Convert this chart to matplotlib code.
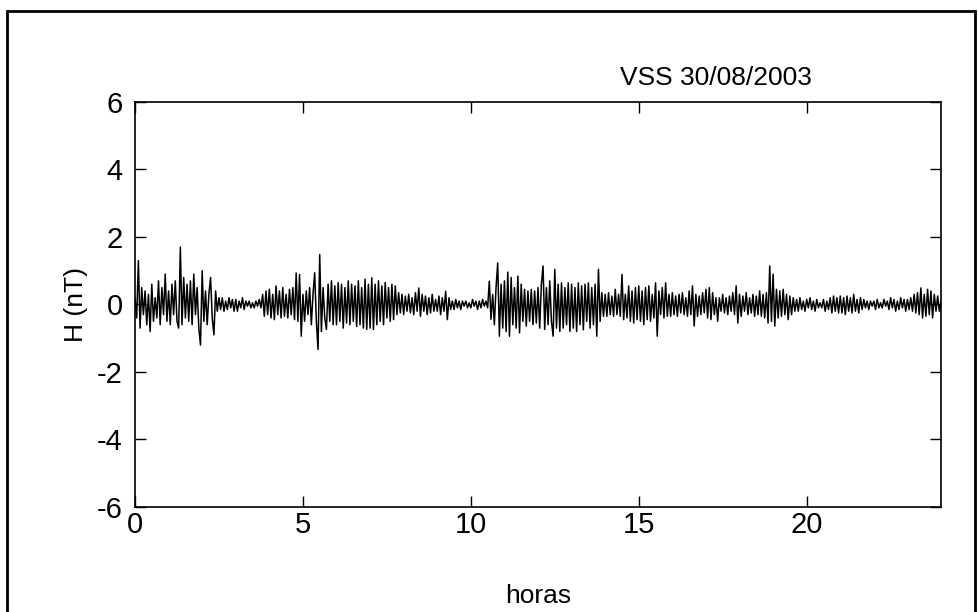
import numpy as np
import matplotlib
matplotlib.use("Agg")
from matplotlib import pyplot as plt
from matplotlib.patches import Rectangle

# H component (nT), 20 samples per hour, one row per hour
h00 = [0.2, -0.4, 1.3, -0.7, 0.5, -0.3, 0.4, -0.6, 0.3, -0.8, 0.6, -0.5, 0.2, -0.4, 0.7, -0.6, 0.5, -0.3, 0.9, -0.5]
h01 = [0.4, -0.6, 0.6, -0.3, 0.7, -0.5, -0.7, 1.7, -0.6, 0.8, -0.4, 0.6, -0.5, 0.7, -0.6, 0.9, -0.3, 0.5, -0.7, -1.2]
h02 = [1.0, -0.5, 0.4, -0.6, 0.3, 0.8, -0.4, -0.9, 0.4, -0.2, 0.2, -0.15, 0.2, -0.2, 0.1, -0.15, 0.2, -0.1, 0.15, -0.2]
h03 = [0.15, -0.2, 0.1, -0.1, 0.2, -0.15, 0.1, -0.05, 0.1, -0.1, 0.05, -0.1, 0.1, -0.05, 0.15, -0.1, 0.3, -0.35, 0.4, -0.3]
h04 = [0.45, -0.4, 0.3, -0.45, 0.55, -0.3, 0.4, -0.4, 0.5, -0.35, 0.3, -0.4, 0.45, -0.3, 0.5, -0.45, 0.93, -0.5, 0.89, -0.94]
h05 = [0.3, -0.5, 0.4, -0.3, 0.5, -0.6, 0.3, 0.94, -0.5, -1.33, 1.48, -0.8, 0.5, -0.4, -0.74, 0.6, -0.5, 0.7, -0.6, 0.55]
h06 = [-0.6, 0.65, -0.5, 0.6, -0.7, 0.5, -0.55, 0.7, -0.6, 0.6, -0.5, 0.55, -0.65, 0.7, -0.6, 0.5, -0.7, 0.75, -0.74, 0.6]
h07 = [-0.7, 0.79, -0.74, 0.6, -0.6, 0.7, -0.5, 0.55, -0.6, 0.65, -0.4, 0.5, -0.5, 0.6, -0.45, 0.55, -0.3, 0.35, -0.25, 0.3]
h08 = [-0.3, 0.25, -0.2, 0.3, -0.25, 0.2, -0.3, 0.35, -0.2, 0.49, -0.35, 0.3, -0.2, 0.25, -0.3, 0.2, -0.25, 0.3, -0.2, 0.15]
h09 = [-0.2, 0.25, -0.3, 0.2, -0.2, 0.39, -0.45, 0.2, -0.15, 0.1, -0.15, 0.15, -0.1, 0.1, -0.15, 0.1, -0.05, 0.1, -0.1, 0.05]
h10 = [-0.1, 0.15, -0.05, 0.1, -0.15, 0.1, -0.1, 0.15, -0.05, 0.1, -0.1, 0.69, -0.44, 0.3, -0.6, 0.5, 1.23, -0.94, 0.6, -0.7]
h11 = [0.7, -0.8, 0.96, -0.94, 0.8, -0.6, 0.5, -0.7, 0.84, -0.84, 0.6, -0.5, 0.45, -0.64, 0.4, -0.5, 0.45, -0.6, 0.4, -0.55]
h12 = [0.5, -0.7, 0.6, 1.14, -0.74, 0.5, -0.6, 0.7, -0.5, -0.94, 1.04, -0.7, 0.6, -0.8, 0.64, -0.7, 0.5, -0.6, 0.64, -0.8]
h13 = [0.6, -0.7, 0.5, -0.8, 0.64, -0.6, 0.55, -0.75, 0.6, -0.5, 0.64, -0.7, 0.5, -0.6, 0.6, -0.94, 1.04, -0.5, 0.35, -0.35]
h14 = [0.3, -0.35, 0.35, -0.3, 0.25, -0.35, 0.45, -0.3, 0.3, -0.35, 0.89, -0.45, 0.3, -0.4, 0.55, -0.5, 0.4, -0.55, 0.5, -0.45]
h15 = [0.55, -0.5, 0.4, -0.6, 0.5, -0.45, 0.55, -0.5, 0.3, -0.4, 0.64, -0.94, 0.4, -0.3, 0.5, -0.4, 0.64, -0.35, 0.3, -0.35]
h16 = [0.35, -0.3, 0.25, -0.35, 0.3, -0.25, 0.35, -0.3, 0.2, -0.35, 0.4, -0.3, 0.55, -0.64, 0.3, -0.35, 0.25, -0.3, 0.35, -0.25]
h17 = [0.45, -0.4, 0.5, -0.45, 0.35, -0.3, 0.2, -0.5, 0.2, -0.2, 0.3, -0.25, 0.2, -0.3, 0.25, -0.2, 0.35, -0.3, 0.55, -0.55]
h18 = [0.3, -0.35, 0.25, -0.2, 0.35, -0.3, 0.2, -0.25, 0.3, -0.35, 0.25, -0.3, 0.4, -0.35, 0.3, -0.4, 0.35, -0.55, 1.14, -0.5]
h19 = [0.9, -0.64, 0.45, -0.4, 0.4, -0.35, 0.45, -0.3, 0.3, -0.45, 0.25, -0.3, 0.2, -0.2, 0.15, -0.2, 0.2, -0.15, 0.1, -0.2]
h20 = [0.15, -0.1, 0.2, -0.15, 0.1, -0.2, 0.15, -0.1, 0.05, -0.1, 0.15, -0.2, 0.1, -0.15, 0.2, -0.25, 0.25, -0.2, 0.2, -0.25]
h21 = [0.25, -0.25, 0.2, -0.3, 0.25, -0.2, 0.2, -0.25, 0.3, -0.2, 0.15, -0.25, 0.2, -0.15, 0.15, -0.1, 0.1, -0.15, 0.1, -0.05]
h22 = [0.1, -0.15, 0.15, -0.1, 0.05, -0.1, 0.15, -0.05, 0.1, -0.15, 0.2, -0.1, 0.15, -0.2, 0.1, -0.15, 0.2, -0.1, 0.15, -0.2]
h23 = [0.15, -0.15, 0.2, -0.2, 0.3, -0.25, 0.35, -0.3, 0.49, -0.4, 0.3, -0.35, 0.45, -0.3, 0.4, -0.4, 0.3, -0.2, 0.25, -0.2]
h_end = [0.1]

rows = [h00, h01, h02, h03, h04, h05, h06, h07, h08, h09, h10, h11,
        h12, h13, h14, h15, h16, h17, h18, h19, h20, h21, h22, h23, h_end]
H = np.concatenate([np.array(r) for r in rows])
horas = np.arange(len(H)) / 20.0

title_txt = 'VSS 30/08/2003'
xticks = [0, 5, 10, 15, 20]
yticks = [-6, -4, -2, 0, 2, 4, 6]

plt.rcParams['font.family'] = ['Liberation Sans', 'DejaVu Sans']
plt.rcParams['axes.unicode_minus'] = False

fig = plt.figure(figsize=(9.79, 6.12), dpi=100)
ax = fig.add_axes([0.1379, 0.1716, 0.8233, 0.6618])

ax.plot(horas, H, color='black', linewidth=1.1)
ax.set_xlim(0, 24)
ax.set_ylim(-6, 6)
ax.set_xticks(xticks)
ax.set_yticks(yticks)
ax.tick_params(direction='in', length=8, width=1, top=True, right=True,
               labelsize=21)
ax.tick_params(axis='x', pad=3)
ax.tick_params(axis='y', pad=9)
for s in ax.spines.values():
    s.set_linewidth(1.2)

ax.set_xlabel('horas', fontsize=19)
ax.set_ylabel('H (nT)', fontsize=19)
ax.xaxis.set_label_coords(0.5, -0.19)
ax.yaxis.set_label_coords(-0.058, 0.5)
ax.text(17.3, 6.72, title_txt, ha='center', va='center', fontsize=19)

# outer frame like the scanned figure
fig.patches.append(Rectangle((7 / 979, -0.05), 968 / 979, 1.05 - 11 / 612,
                             transform=fig.transFigure, fill=False,
                             edgecolor='black', linewidth=2))

fig.savefig('out.png', dpi=100)
